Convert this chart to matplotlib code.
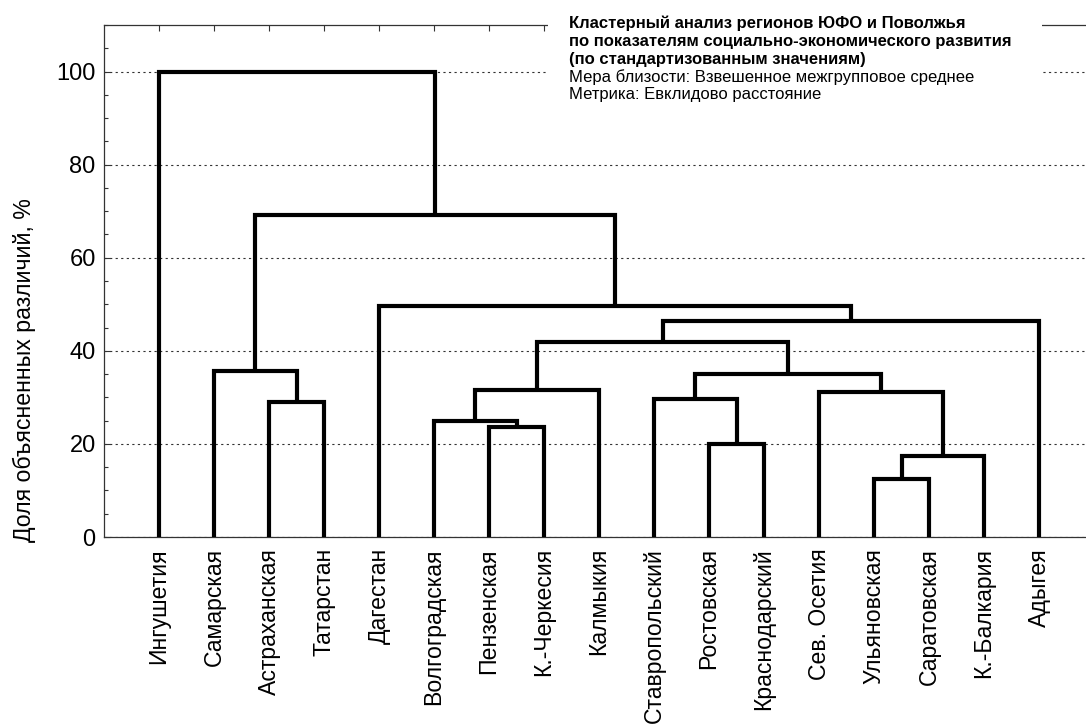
import matplotlib
matplotlib.use("Agg")
import matplotlib.pyplot as plt
from matplotlib.patches import Rectangle
from matplotlib.ticker import MultipleLocator

plt.rcParams['font.family'] = ['Liberation Sans', 'DejaVu Sans']

leaves = ['Ингушетия', 'Самарская', 'Астраханская', 'Татарстан', 'Дагестан',
          'Волгоградская', 'Пензенская', 'К.-Черкесия', 'Калмыкия',
          'Ставропольский', 'Ростовская', 'Краснодарский', 'Сев. Осетия',
          'Ульяновская', 'Саратовская', 'К.-Балкария', 'Адыгея']
# merges: new cluster id = len(leaves) + index
merge_left = [13, 17, 12, 10, 9, 21, 6, 5, 24, 25, 26, 4, 2, 1, 30, 0]
merge_right = [14, 15, 18, 11, 20, 19, 7, 23, 8, 22, 16, 27, 3, 29, 28, 31]
merge_height = [12.4, 17.5, 31.1, 19.9, 29.7, 35.0, 23.6, 24.9, 31.5, 41.9,
                46.3, 49.7, 28.9, 35.7, 69.2, 100.0]

title_bold = ['Кластерный анализ регионов ЮФО и Поволжья',
              'по показателям социально-экономического развития',
              '(по стандартизованным значениям)']
title_plain = ['Мера близости: Взвешенное межгрупповое среднее',
               'Метрика: Евклидово расстояние']
ylabel = 'Доля объясненных различий, %'
yticks = [0, 20, 40, 60, 80, 100]

W, H = 1086, 724
fig = plt.figure(figsize=(W / 100, H / 100), dpi=100)
ax = fig.add_axes([104 / W, (H - 537) / H, 990 / W, (537 - 25) / H])

xpos = {i: i + 1.0 for i in range(len(leaves))}
hgt = {i: 0.0 for i in range(len(leaves))}
n = len(leaves)
for k, (a, b, h) in enumerate(zip(merge_left, merge_right, merge_height)):
    xa, xb = xpos[a], xpos[b]
    ax.plot([xa, xa, xb, xb], [hgt[a], h, h, hgt[b]], color='black', lw=3.0,
            solid_joinstyle='miter', solid_capstyle='butt', zorder=3)
    xpos[n + k] = (xa + xb) / 2
    hgt[n + k] = h

ax.set_xlim(0, 18)
ax.set_ylim(0, 110)
ax.set_yticks(yticks)
ax.set_yticklabels([str(t) for t in yticks], fontsize=17)
ax.yaxis.set_minor_locator(MultipleLocator(5))
ax.set_xticks([i + 1 for i in range(n)])
ax.set_xticklabels(leaves, rotation=90, fontsize=16.6, va='top')
ax.tick_params(axis='both', which='both', direction='in', top=True,
               color='#333333', width=0.8)
ax.tick_params(axis='both', which='major', length=4)
ax.tick_params(axis='y', which='minor', length=3)
ax.tick_params(axis='x', pad=8)
ax.tick_params(axis='y', pad=6)
ax.yaxis.grid(True, linestyle=(0, (2, 3)), color='#333333', lw=0.8)
ax.set_axisbelow(True)
for s in ax.spines.values():
    s.set_color('#333333')
    s.set_linewidth(0.9)
fig.text(24 / W, 1 - 370 / H, ylabel, fontsize=16.7, rotation=90,
         ha='center', va='center')

fig.patches.append(Rectangle((548 / W, 1 - 112 / H), (1042 - 548) / W, 100 / H,
                             transform=fig.transFigure, facecolor='white',
                             edgecolor='none', zorder=5))
y0 = 23.5
dy = 17.8
for i, t in enumerate(title_bold):
    fig.text(569 / W, 1 - (y0 + i * dy) / H, t, fontsize=12,
             fontweight='bold', va='center', ha='left', zorder=6)
for j, t in enumerate(title_plain):
    fig.text(569 / W, 1 - (y0 + (3 + j) * dy) / H, t, fontsize=12,
             va='center', ha='left', zorder=6)

fig.savefig('out.png', dpi=100)
